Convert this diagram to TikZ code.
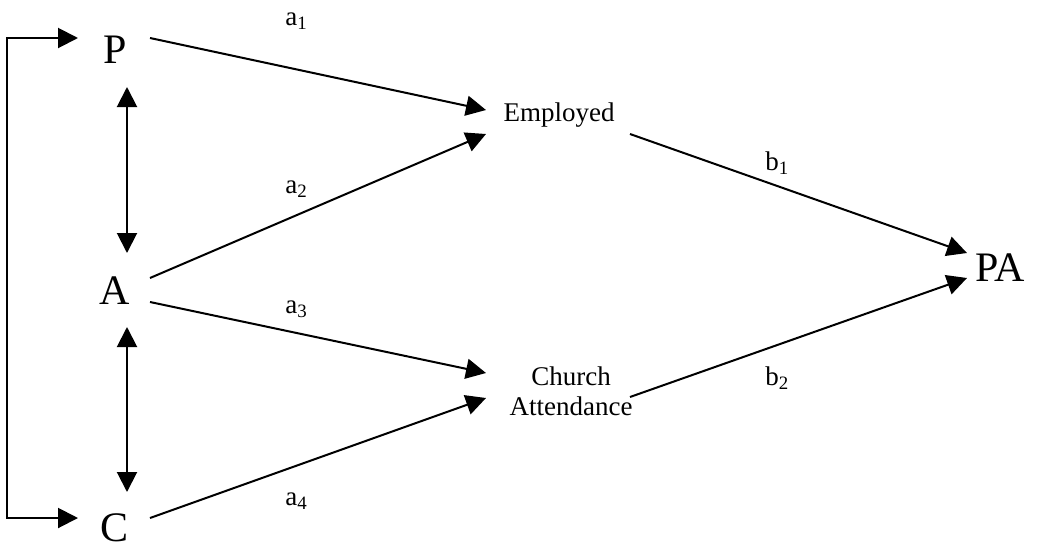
\documentclass[tikz,border=0pt]{standalone}
\usepackage{fontspec}
\setmainfont{Liberation Serif}
\usetikzlibrary{arrows.meta,positioning}
\tikzset{
bigvar/.style={inner sep=0pt, anchor=base, font=\fontsize{21}{25}\selectfont},
smallvar/.style={inner sep=0pt, font=\fontsize{13.5}{15}\selectfont, align=center},
coef/.style={inner sep=0pt, anchor=base west, font=\fontsize{13.5}{15}\selectfont},
line/.style={draw, line width=1pt, -{Triangle[length=10pt, width=10pt]}},
both/.style={draw, line width=1pt, {Triangle[length=10pt, width=10pt]}-{Triangle[length=10pt, width=10pt]}}
}

\begin{document}
\begin{tikzpicture}[x=0.5pt, y=-0.5pt]
    \useasboundingbox (0,0) rectangle (1037,552);
    % Place nodes
    \node [bigvar] (p) at (115,63) {P};
    \node [bigvar] (a) at (115,304) {A};
    \node [bigvar] (c) at (115,541) {C};
    \node [bigvar] (pa) at (1000,281) {PA};
    \node [smallvar, anchor=base] (employed) at (559,121) {Employed};
    \node [smallvar] (church) at (571,391) {Church\\Attendance};
    % Path labels
    \node [coef] (a1) at (285,25) {a\textsubscript{1}};
    \node [coef] (a2) at (285,193) {a\textsubscript{2}};
    \node [coef] (a3) at (285,313) {a\textsubscript{3}};
    \node [coef] (a4) at (285,505) {a\textsubscript{4}};
    \node [coef] (b1) at (765,170) {b\textsubscript{1}};
    \node [coef] (b2) at (765,385) {b\textsubscript{2}};
    % Draw edges
    \path [line] ([shift={(35,-25)}]p.base) -- ([shift={(-73,-11)}]employed.base);
    \path [line] ([shift={(35,-26)}]a.base) -- ([shift={(-73,13)}]employed.base);
    \path [line] ([shift={(35,-2)}]a.base) -- ([shift={(-85,-18)}]church.center);
    \path [line] ([shift={(35,-23)}]c.base) -- ([shift={(-85,7)}]church.center);
    \path [line] ([shift={(71,13)}]employed.base) -- ([shift={(-33,-28)}]pa.base);
    \path [line] ([shift={(59,6)}]church.center) -- ([shift={(-33,-3)}]pa.base);
    \path [both] ([shift={(12,24)}]p.base) -- ([shift={(12,-51)}]a.base);
    \path [both] ([shift={(12,23)}]a.base) -- ([shift={(12,-49)}]c.base);
    \path [both] ([shift={(-37,-25)}]p.base) -| ([shift={(-108,-23)}]c.base) -- ([shift={(-37,-23)}]c.base);
\end{tikzpicture}
\end{document}
